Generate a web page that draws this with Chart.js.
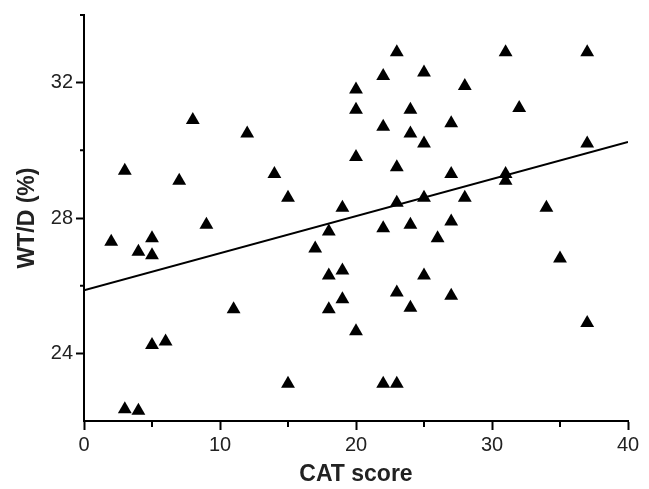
<!DOCTYPE html>
<html>
<head>
<meta charset="utf-8">
<title>WT/D vs CAT score</title>
<script src="https://cdn.jsdelivr.net/npm/chart.js@4.4.1/dist/chart.umd.min.js"></script>
<style>
  html, body { margin: 0; padding: 0; background: #fff; }
  #wrap { width: 649px; height: 489px; }
</style>
</head>
<body>
<div id="wrap"><canvas id="chart-scatter" width="649" height="489"></canvas></div>
<script>
  "use strict";
  // values
  const catScore = [
    2, 3, 3, 4, 4, 5, 5, 5, 6, 7, 8, 9, 11, 12, 14, 15, 15, 17, 18, 18, 18,
    19, 19, 19, 20, 20, 20, 20, 22, 22, 22, 22, 23, 23, 23, 23, 23, 24, 24,
    24, 24, 25, 25, 25, 25, 26, 27, 27, 27, 27, 28, 28, 31, 31, 31, 32, 34,
    35, 37, 37, 37,
  ];
  const wtd = [
    27.3, 29.4, 22.35, 27.0, 22.3, 27.4, 26.9, 24.25, 24.35, 29.1, 30.9, 27.8,
    25.3, 30.5, 29.3, 28.6, 23.1, 27.1, 27.6, 26.3, 25.3, 28.3, 26.45, 25.6,
    31.8, 31.2, 29.8, 24.65, 32.2, 30.7, 27.7, 23.1, 32.9, 29.5, 28.45, 25.8,
    23.1, 31.2, 30.5, 27.8, 25.35, 32.3, 30.2, 28.6, 26.3, 27.4, 30.8, 29.3,
    27.9, 25.7, 31.9, 28.6, 32.9, 29.3, 29.1, 31.25, 28.3, 26.8, 32.9, 30.2,
    24.9,
  ];
  // regression line end points
  const fitX = [0, 40];
  const fitY = [25.86, 30.25];

  const xTicks = [0, 10, 20, 30, 40];
  const xMinor = [5, 15, 25, 35];
  const yTicks = [24, 28, 32];
  const yMinor = [26, 30, 34];

  const FONT = "'Liberation Sans', Arial, Helvetica, sans-serif";

  const minorTicks = {
    id: "minorTicks",
    afterDraw: function (chart) {
      const ctx = chart.ctx;
      const x = chart.scales.x;
      const y = chart.scales.y;
      ctx.save();
      ctx.strokeStyle = "#000";
      ctx.lineWidth = 2;
      ctx.beginPath();
      xMinor.forEach((v) => {
        const px = x.getPixelForValue(v);
        ctx.moveTo(px, x.top);
        ctx.lineTo(px, x.top + 6);
      });
      yMinor.forEach((v) => {
        const py = y.getPixelForValue(v);
        ctx.moveTo(y.right, py);
        ctx.lineTo(y.right - 4, py);
      });
      ctx.stroke();
      ctx.restore();
    },
  };

  const points = catScore.map((c, i) => ({ x: c, y: wtd[i] }));
  const fitLine = fitX.map((c, i) => ({ x: c, y: fitY[i] }));

  const config = {
    type: "scatter",
    data: {
      datasets: [
        {
          data: points,
          pointStyle: "triangle",
          pointRadius: 8,
          backgroundColor: "#000",
          borderColor: "#000",
          borderWidth: 0,
        },
        {
          type: "line",
          data: fitLine,
          borderColor: "#000",
          borderWidth: 2,
          pointRadius: 0,
          fill: false,
        },
      ],
    },
    options: {
      responsive: false,
      animation: false,
      devicePixelRatio: 1,
      layout: { padding: { top: 10, right: 21, left: 0, bottom: 0 } },
      plugins: {
        legend: { display: false },
        tooltip: { enabled: false },
      },
      scales: {
        x: {
          type: "linear",
          min: 0,
          max: 40,
          afterFit: (s) => {
            s.height = 68;
          },
          afterBuildTicks: (s) => {
            s.ticks = xTicks.map((v) => ({ value: v }));
          },
          border: { display: true, color: "#000", width: 2 },
          grid: {
            drawOnChartArea: false,
            drawTicks: true,
            tickLength: 9,
            tickWidth: 2,
            tickColor: "#000",
          },
          ticks: {
            color: "#222",
            padding: 3,
            maxRotation: 0,
            font: { family: FONT, size: 20 },
          },
          title: {
            display: true,
            text: "CAT score",
            color: "#222",
            padding: { top: 0, bottom: 1 },
            font: { family: FONT, size: 23, weight: "bold" },
          },
        },
        y: {
          type: "linear",
          min: 22,
          max: 34,
          afterFit: (s) => {
            s.width = 84;
          },
          afterBuildTicks: (s) => {
            s.ticks = yTicks.map((v) => ({ value: v }));
          },
          border: { display: true, color: "#000", width: 2 },
          grid: {
            drawOnChartArea: false,
            drawTicks: true,
            tickLength: 8,
            tickWidth: 2,
            tickColor: "#000",
          },
          ticks: {
            color: "#222",
            padding: 3,
            font: { family: FONT, size: 20 },
          },
          title: {
            display: true,
            text: "WT/D (%)",
            color: "#222",
            padding: { top: 14, bottom: 0 },
            font: { family: FONT, size: 23, weight: "bold" },
          },
        },
      },
    },
    plugins: [minorTicks],
  };

  const chartScatter = new Chart(
    document.getElementById("chart-scatter"),
    config
  );
</script>
</body>
</html>
